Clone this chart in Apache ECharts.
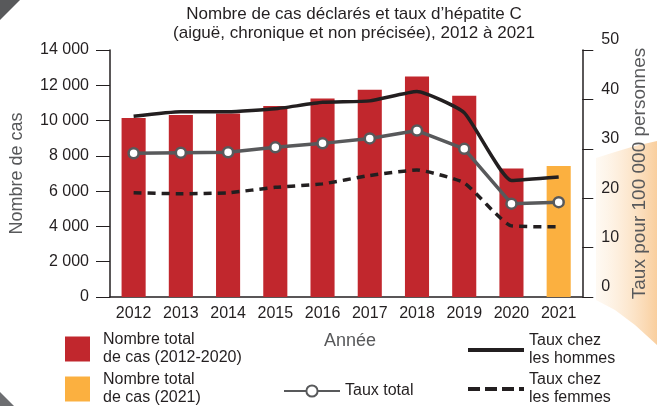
<!DOCTYPE html>
<html>
<head>
<meta charset="utf-8">
<script src="https://cdn.jsdelivr.net/npm/echarts@6/dist/echarts.min.js"></script>
<style>
  html, body { margin: 0; padding: 0; background: #fff; }
  #main { width: 657px; height: 406px; }
</style>
</head>
<body>
<div id="main"></div>
<script>
// données
var annees = ['2012', '2013', '2014', '2015', '2016', '2017', '2018', '2019', '2020', '2021']
var casTotal = [10150, 10320, 10400, 10830, 11250, 11750, 12500, 11400, 7280, '-']
var cas2021 = ['-', '-', '-', '-', '-', '-', '-', '-', '-', 7430]
var tauxHommes = [36.6, 37.5, 37.5, 38.1, 39.4, 39.7, 41.6, 37.3, 23.6, 24.3]
var tauxTotal = [29.1, 29.2, 29.3, 30.3, 31.1, 32.1, 33.7, 30.0, 18.9, 19.2]
var tauxFemmes = [21.1, 20.9, 21.1, 22.2, 22.9, 24.6, 25.7, 23.1, 14.4, 14.2]

var nomRouge = 'Nombre total\nde cas (2012-2020)'
var nomOrange = 'Nombre total\nde cas (2021)'
var nomTotal = 'Taux total'
var nomHommes = 'Taux chez\nles hommes'
var nomFemmes = 'Taux chez\nles femmes'

var police = 'Liberation Sans, Arial, sans-serif'
var legendText = { fontFamily: police, fontSize: 16, color: '#231f20', lineHeight: 18 }

var myChart = echarts.init(document.getElementById('main'))
var option = {
  backgroundColor: '#fff',
  animation: false,
  textStyle: { fontFamily: police },
  title: {
    text: 'Nombre de cas déclarés et taux d\u2019hépatite C\n(aiguë, chronique et non précisée), 2012 à 2021',
    left: 349,
    textAlign: 'center',
    top: 0,
    textStyle: { fontFamily: police, fontSize: 17, fontWeight: 'normal', color: '#231f20', lineHeight: 19 }
  },
  graphic: [
    // décor : coins gris et halo orange
    { type: 'polygon', shape: { points: [[0, 0], [20, 0], [0, 20]] }, style: { fill: '#58595b' }, silent: true },
    { type: 'polygon', shape: { points: [[0, 392], [0, 406], [14, 406]] }, style: { fill: '#6d6e71' }, silent: true },
    {
      type: 'polygon', z: -1, silent: true,
      shape: { points: [[596, 158], [615, 152], [635, 146], [657, 141], [657, 345], [635, 325], [615, 310], [596, 300]] },
      style: {
        fill: {
          type: 'linear', x: 0, y: 0, x2: 1, y2: 0,
          colorStops: [{ offset: 0, color: 'rgba(253,236,214,0.3)' }, { offset: 1, color: 'rgba(247,190,125,0.75)' }]
        }
      }
    },
    { type: 'text', left: 324, top: 332, style: { text: 'Année', font: '18px ' + police, fill: '#58595b' } }
  ],
  legend: [
    {
      orient: 'vertical', left: 65, top: 331, height: 100, padding: 0, itemWidth: 25, itemHeight: 25, itemGap: 4,
      icon: 'rect',
      textStyle: { fontFamily: police, fontSize: 16, color: '#231f20', lineHeight: 18, padding: [0, 0, 0, 8] },
      data: [nomRouge, nomOrange]
    },
    {
      left: 283, top: 382, padding: 0, itemWidth: 56, itemHeight: 14,
      textStyle: legendText,
      data: [nomTotal]
    },
    {
      orient: 'vertical', left: 468, top: 332, height: 100, padding: 0, itemWidth: 56, itemHeight: 4, itemGap: 3,
      textStyle: legendText,
      data: [
        { name: nomHommes, icon: 'path://M0,0h56v4h-56z' },
        { name: nomFemmes, icon: 'path://M0,0h12v4h-12z M17,0h12v4h-12z M34,0h12v4h-12z M51,0h5v4h-5z' }
      ]
    }
  ],
  grid: { left: 105, right: 67, top: 50, bottom: 109 },
  xAxis: {
    type: 'category',
    data: annees,
    axisLine: { lineStyle: { color: '#231f20', width: 1.5 } },
    axisTick: { inside: true, length: 5, lineStyle: { color: '#231f20' } },
    axisLabel: { fontFamily: police, fontSize: 16, color: '#231f20', margin: 9 }
  },
  yAxis: [
    {
      type: 'value', min: 0, max: 14000, interval: 2000,
      name: 'Nombre de cas', nameLocation: 'middle', nameGap: 84,
      nameTextStyle: { fontFamily: police, fontSize: 18, color: '#58595b' },
      axisLine: { show: true, lineStyle: { color: '#231f20', width: 1.5 } },
      axisTick: { show: true, length: 14, lineStyle: { color: '#231f20' } },
      splitLine: { show: false },
      axisLabel: {
        fontFamily: police, fontSize: 16, color: '#231f20', margin: 21,
        formatter: function(v) { return String(v).replace(/\B(?=(\d{3})+(?!\d))/g, ' ') }
      }
    },
    {
      type: 'value', min: 0, max: 50, interval: 10, position: 'right',
      name: 'Taux pour 100 000 personnes', nameLocation: 'middle', nameGap: 46, nameRotate: 90,
      nameTextStyle: { fontFamily: police, fontSize: 19, color: '#58595b' },
      axisLine: { show: true, lineStyle: { color: '#231f20', width: 1.5 } },
      axisTick: { show: true, length: 11, lineStyle: { color: '#231f20' } },
      splitLine: { show: false },
      axisLabel: { fontFamily: police, fontSize: 16, color: '#231f20', margin: 19, verticalAlign: 'bottom', padding: [0, 0, 2, 0] }
    }
  ],
  series: [
    {
      name: nomRouge, type: 'bar', data: casTotal, barWidth: '51%', barGap: '-100%',
      itemStyle: { color: '#c1272d' }
    },
    {
      name: nomOrange, type: 'bar', data: cas2021, barWidth: '51%', barGap: '-100%',
      itemStyle: { color: '#fbb040' }
    },
    {
      name: nomHommes, type: 'line', yAxisIndex: 1, data: tauxHommes, smooth: 0.15,
      symbol: 'none', lineStyle: { color: '#231f20', width: 3.5 }, itemStyle: { color: '#231f20' }
    },
    {
      name: nomTotal, type: 'line', yAxisIndex: 1, data: tauxTotal,
      symbol: 'circle', symbolSize: 10,
      lineStyle: { color: '#58595b', width: 3.5 },
      itemStyle: { color: '#fff', borderColor: '#58595b', borderWidth: 2.5 }
    },
    {
      name: nomFemmes, type: 'line', yAxisIndex: 1, data: tauxFemmes, smooth: 0.15,
      symbol: 'none', lineStyle: { color: '#231f20', width: 3.5, type: [8, 6] }, itemStyle: { color: '#231f20' }
    }
  ]
}
myChart.setOption(option)
</script>
</body>
</html>
